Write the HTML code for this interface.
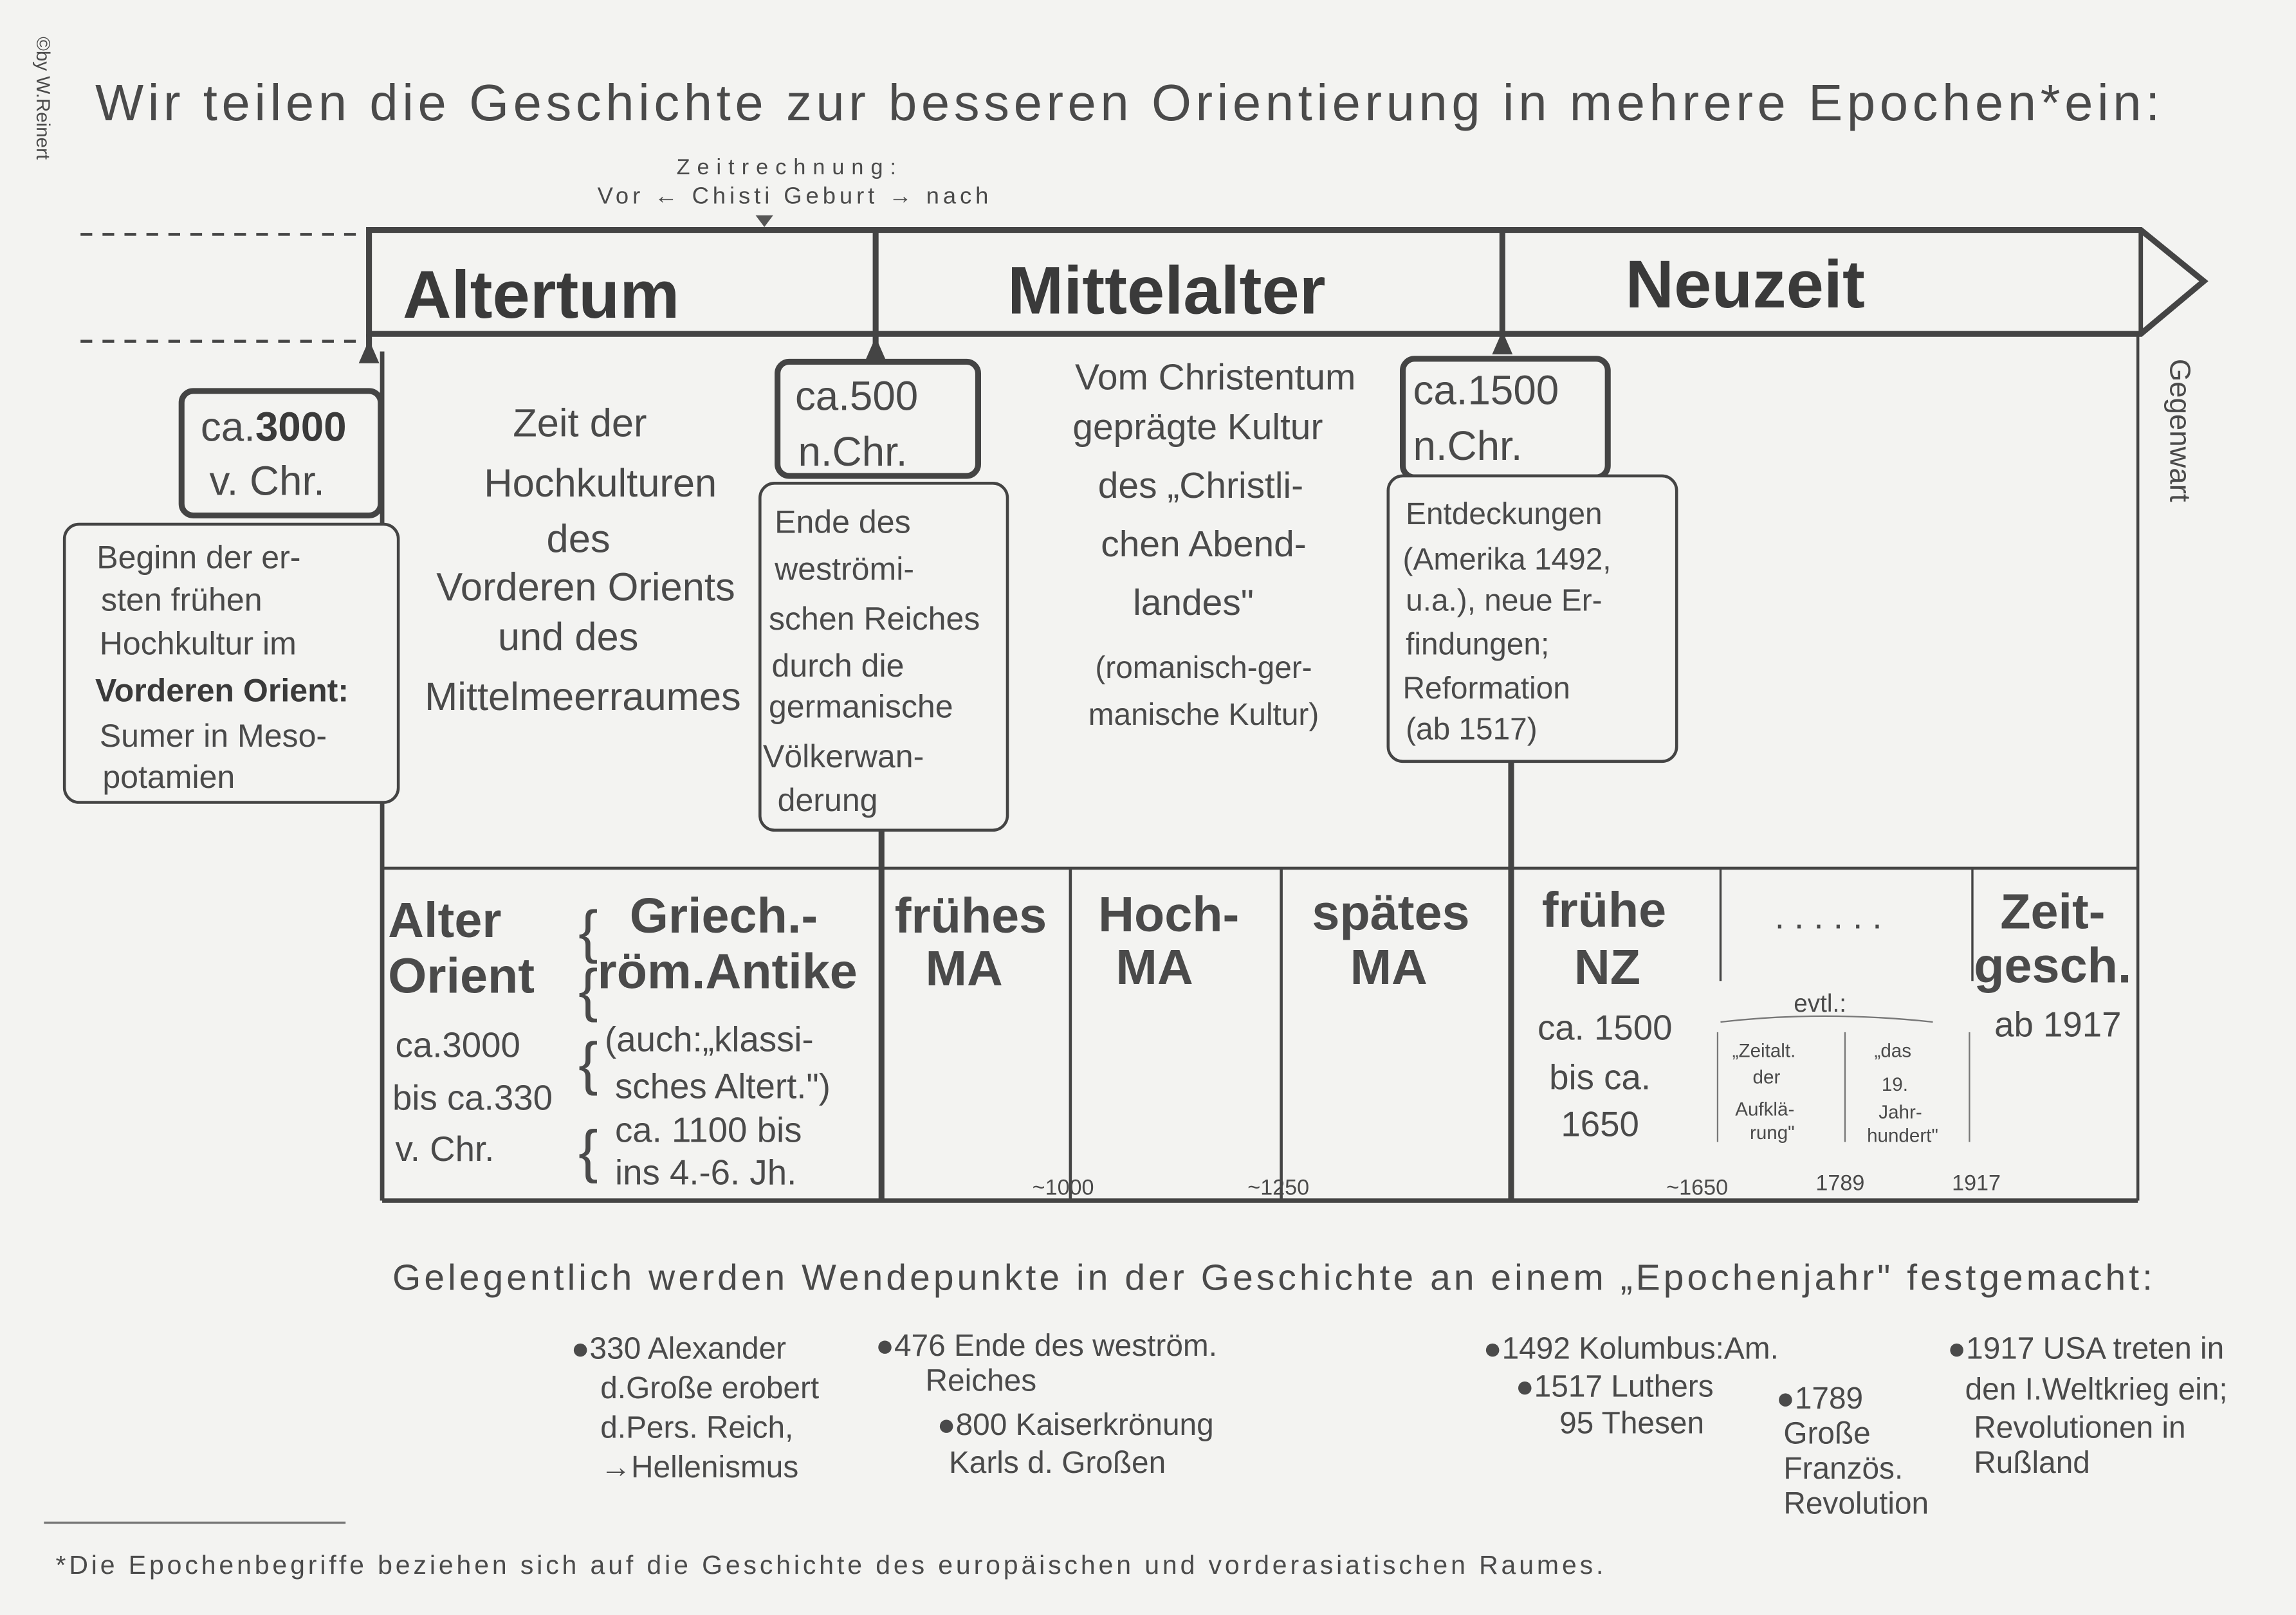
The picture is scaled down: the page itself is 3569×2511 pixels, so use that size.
<!DOCTYPE html>
<html><head><meta charset="utf-8"><style>
html,body{margin:0;padding:0;background:#f3f3f1;}
svg{display:block;}
text{font-family:"Liberation Sans",sans-serif;fill:#4a4a4a;}
.b{font-weight:bold;fill:#3a3a3a;}
</style></head><body>
<svg width="3569" height="2511" viewBox="0 0 1568 1103" xmlns="http://www.w3.org/2000/svg">
<rect width="1568" height="1103" fill="#f3f3f1"/>
<text x="25" y="25" font-size="13" transform="rotate(90 25 25)" fill="#777">©by W.Reinert</text>
<text x="65" y="82" font-size="35" fill="#555" textLength="1410" lengthAdjust="spacing">Wir teilen die Geschichte zur besseren Orientierung in mehrere Epochen*ein:</text>
<text x="462" y="119" font-size="15" fill="#666" textLength="150">Zeitrechnung:</text>
<text x="408" y="139" font-size="16" fill="#666" textLength="267">Vor ← Chisti Geburt → nach</text>
<polygon points="516,147 528,147 522,155" fill="#555"/>
<g stroke="#444" fill="none">
<line x1="55" y1="160" x2="250" y2="160" stroke-dasharray="8,7" stroke-width="2"/>
<line x1="55" y1="233" x2="250" y2="233" stroke-dasharray="8,7" stroke-width="2"/>
<path d="M252 157 H1462 L1505 192 L1462 228 H252 Z" stroke-width="4"/>
<line x1="1462" y1="157" x2="1462" y2="228" stroke-width="3"/>
<line x1="598" y1="157" x2="598" y2="245" stroke-width="4"/>
<line x1="1026" y1="157" x2="1026" y2="240" stroke-width="4"/>
<line x1="252" y1="228" x2="252" y2="240" stroke-width="4"/>
<line x1="261" y1="240" x2="261" y2="820" stroke-width="3"/>
<line x1="602" y1="568" x2="602" y2="820" stroke-width="4"/>
<line x1="1032" y1="520" x2="1032" y2="820" stroke-width="4"/>
<line x1="1460" y1="228" x2="1460" y2="820" stroke-width="2"/>
<line x1="261" y1="593" x2="1460" y2="593" stroke-width="2"/>
<line x1="261" y1="820" x2="1460" y2="820" stroke-width="3"/>
<line x1="731" y1="593" x2="731" y2="820" stroke-width="2"/>
<line x1="875" y1="593" x2="875" y2="820" stroke-width="2"/>
<line x1="1175" y1="593" x2="1175" y2="670" stroke-width="1.5"/>
<line x1="1347" y1="593" x2="1347" y2="670" stroke-width="1.5"/>
</g>
<g stroke="#444" fill="#f3f3f1">
<rect x="124" y="267" width="136" height="85" rx="8" stroke-width="4"/>
<rect x="44" y="358" width="228" height="190" rx="10" stroke-width="2"/>
<rect x="531" y="247" width="137" height="78" rx="8" stroke-width="4"/>
<rect x="519" y="330" width="169" height="237" rx="10" stroke-width="2"/>
<rect x="958" y="245" width="140" height="81" rx="8" stroke-width="4"/>
<rect x="948" y="325" width="197" height="195" rx="10" stroke-width="2"/>
</g>
<polygon points="245,248 259,248 252,232" fill="#444"/>
<polygon points="591,246 605,246 598,230" fill="#444"/>
<polygon points="1019,242 1033,242 1026,226" fill="#444"/>
<text x="275" y="217" font-size="46" class="b">Altertum</text>
<text x="688" y="214" font-size="46" class="b">Mittelalter</text>
<text x="1110" y="210" font-size="46" class="b">Neuzeit</text>
<text x="1482" y="245" font-size="20" transform="rotate(90 1482 245)" fill="#666">Gegenwart</text>
<g font-size="28"><text x="137" y="301">ca.<tspan class="b">3000</tspan></text><text x="143" y="338">v. Chr.</text>
<text x="543" y="280">ca.500</text><text x="545" y="318">n.Chr.</text>
<text x="965" y="276">ca.1500</text><text x="965" y="314">n.Chr.</text></g>
<g font-size="22"><text x="66" y="388">Beginn der er-</text><text x="69" y="417">sten frühen</text><text x="68" y="447">Hochkultur im</text><text x="65" y="479" class="b">Vorderen Orient:</text><text x="68" y="510">Sumer in Meso-</text><text x="70" y="538">potamien</text></g>
<g font-size="27" text-anchor="middle"><text x="396" y="298">Zeit der</text><text x="410" y="339">Hochkulturen</text><text x="395" y="377">des</text><text x="400" y="410">Vorderen Orients</text><text x="388" y="444">und des</text><text x="398" y="485">Mittelmeerraumes</text></g>
<g font-size="22"><text x="529" y="364">Ende des</text><text x="529" y="396">weströmi-</text><text x="525" y="430">schen Reiches</text><text x="527" y="462">durch die</text><text x="525" y="490">germanische</text><text x="521" y="524">Völkerwan-</text><text x="531" y="554">derung</text></g>
<g font-size="25" text-anchor="middle"><text x="830" y="266">Vom Christentum</text><text x="818" y="300">geprägte Kultur</text><text x="820" y="340">des „Christli-</text><text x="822" y="380">chen Abend-</text><text x="815" y="420">landes"</text></g>
<g font-size="21" text-anchor="middle"><text x="822" y="463">(romanisch-ger-</text><text x="822" y="495">manische Kultur)</text></g>
<g font-size="21"><text x="960" y="358">Entdeckungen</text><text x="958" y="389">(Amerika 1492,</text><text x="960" y="417">u.a.), neue Er-</text><text x="960" y="447">findungen;</text><text x="958" y="477">Reformation</text><text x="960" y="505">(ab 1517)</text></g>
<g font-size="34" class="b"><text x="265" y="640">Alter</text><text x="265" y="678">Orient</text>
<text x="430" y="637">Griech.-</text><text x="408" y="675">röm.Antike</text>
<text x="611" y="637">frühes</text><text x="632" y="673">MA</text>
<text x="750" y="636">Hoch-</text><text x="762" y="672">MA</text>
<text x="896" y="635">spätes</text><text x="922" y="672">MA</text>
<text x="1053" y="633">frühe</text><text x="1075" y="672">NZ</text>
<text x="1366" y="634">Zeit-</text><text x="1348" y="671">gesch.</text></g>
<g font-size="40" fill="#666"><text x="395" y="650">{</text><text x="395" y="690">{</text><text x="395" y="740">{</text><text x="395" y="800">{</text></g>
<g font-size="24"><text x="270" y="722">ca.3000</text><text x="268" y="758">bis ca.330</text><text x="270" y="793">v. Chr.</text>
<text x="413" y="718">(auch:„klassi-</text><text x="420" y="750">sches Altert.")</text><text x="420" y="780">ca. 1100 bis</text><text x="420" y="809">ins 4.-6. Jh.</text>
<text x="1050" y="710">ca. 1500</text><text x="1058" y="744">bis ca.</text><text x="1066" y="776">1650</text>
<text x="1362" y="708">ab 1917</text>
<text x="1212" y="634" fill="#777">. . . . . .</text></g>
<text x="1225" y="691" font-size="17" fill="#777">evtl.:</text>
<path d="M1175 698 q70 -8 145 0" stroke="#777" fill="none"/>
<g font-size="13" fill="#666"><text x="1183" y="722">„Zeitalt.</text><text x="1197" y="740">der</text><text x="1185" y="762">Aufklä-</text><text x="1195" y="778">rung"</text>
<text x="1280" y="722">„das</text><text x="1285" y="745">19.</text><text x="1283" y="764">Jahr-</text><text x="1275" y="780">hundert"</text></g>
<g stroke="#777"><line x1="1173" y1="705" x2="1173" y2="780"/><line x1="1260" y1="705" x2="1260" y2="780"/><line x1="1345" y1="705" x2="1345" y2="780"/></g>
<g font-size="15" fill="#555"><text x="705" y="816">~1000</text><text x="852" y="816">~1250</text><text x="1138" y="816">~1650</text><text x="1240" y="813">1789</text><text x="1333" y="813">1917</text></g>
<text x="268" y="881" font-size="25" fill="#555" textLength="1202" lengthAdjust="spacing">Gelegentlich werden Wendepunkte in der Geschichte an einem „Epochenjahr" festgemacht:</text>
<g font-size="21" fill="#444"><text x="390" y="928">●330 Alexander</text><text x="410" y="955">d.Große erobert</text><text x="410" y="982">d.Pers. Reich,</text><text x="410" y="1009">→Hellenismus</text>
<text x="598" y="926">●476 Ende des weström.</text><text x="632" y="950">Reiches</text><text x="640" y="980">●800 Kaiserkrönung</text><text x="648" y="1006">Karls d. Großen</text>
<text x="1013" y="928">●1492 Kolumbus:Am.</text><text x="1035" y="954">●1517 Luthers</text><text x="1065" y="979">95 Thesen</text>
<text x="1213" y="962">●1789</text><text x="1218" y="986">Große</text><text x="1218" y="1010">Französ.</text><text x="1218" y="1034">Revolution</text>
<text x="1330" y="928">●1917 USA treten in</text><text x="1342" y="956">den I.Weltkrieg ein;</text><text x="1348" y="982">Revolutionen in</text><text x="1348" y="1006">Rußland</text></g>
<line x1="30" y1="1040" x2="236" y2="1040" stroke="#777" stroke-width="1.5"/>
<text x="38" y="1075" font-size="18" fill="#555" textLength="1057" lengthAdjust="spacing">*Die Epochenbegriffe beziehen sich auf die Geschichte des europäischen und vorderasiatischen Raumes.</text>
</svg>
</body></html>
